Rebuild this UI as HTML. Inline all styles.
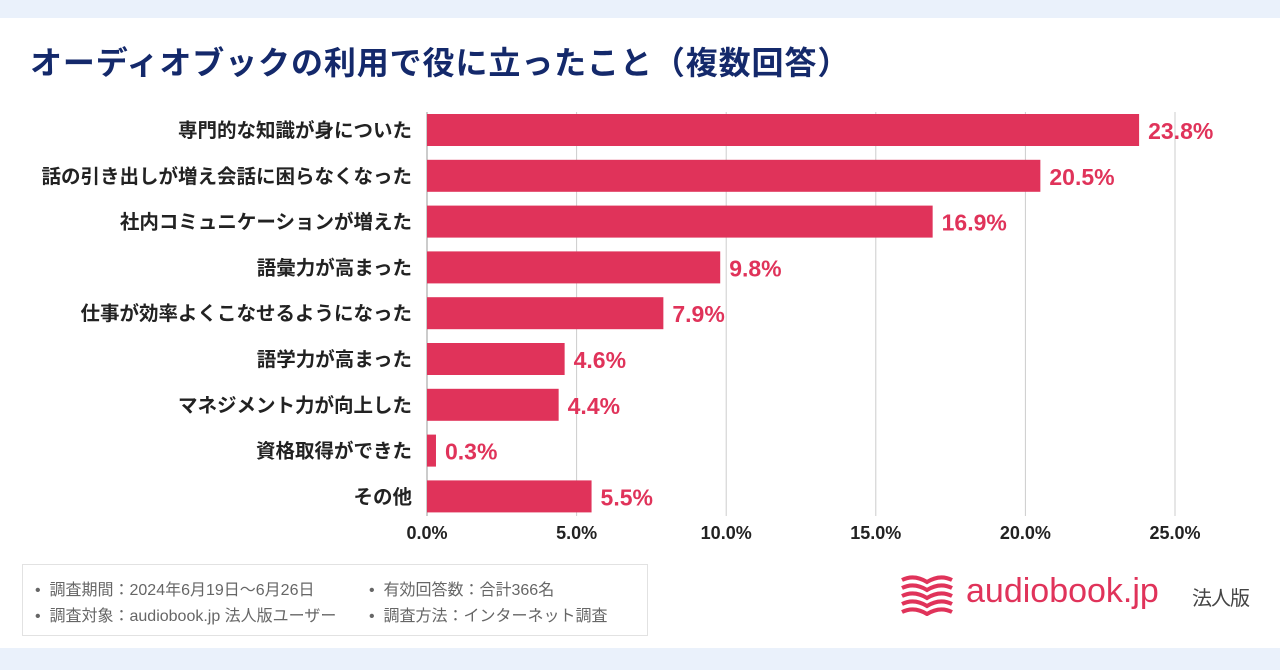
<!DOCTYPE html>
<html><head><meta charset="utf-8"><style>
body{margin:0;width:1280px;height:670px;background:#eaf1fb;font-family:"Liberation Sans","Noto Sans CJK JP",sans-serif;position:relative;overflow:hidden}
#card{position:absolute;left:0;top:18px;width:1280px;height:630px;background:#fff}
h1{position:absolute;left:30px;top:38px;margin:0;font-size:32px;font-weight:bold;color:#14296b;letter-spacing:0.9px;white-space:nowrap}
#note{position:absolute;left:22px;top:564px;width:626px;height:72px;border:1px solid #e2e2e2;box-sizing:border-box;font-size:16px;color:#666}
#note div{position:absolute;white-space:nowrap}
#logo{position:absolute;left:900px;top:574px}
</style></head><body>
<div id="card"></div>
<h1>オーディオブックの利用で役に立ったこと（複数回答）</h1>
<svg id="chart" width="1280" height="670" style="position:absolute;left:0;top:0"></svg>
<div id="note">
<div style="left:12px;top:11px">•&nbsp;&nbsp;調査期間：2024年6月19日～6月26日</div>
<div style="left:346px;top:11px">•&nbsp;&nbsp;有効回答数：合計366名</div>
<div style="left:12px;top:37px">•&nbsp;&nbsp;調査対象：audiobook.jp 法人版ユーザー</div>
<div style="left:346px;top:37px">•&nbsp;&nbsp;調査方法：インターネット調査</div>
</div>
<div id="logo">
<svg width="54" height="42" style="position:absolute;left:0;top:0">
<g fill="none" stroke="#e0335a" stroke-width="4">
<path d="M2 6 Q14 0 27 8 Q40 0 52 6"/><path d="M2 14 Q14 8 27 16 Q40 8 52 14"/><path d="M2 22 Q14 16 27 24 Q40 16 52 22"/><path d="M2 30 Q14 24 27 32 Q40 24 52 30"/><path d="M2 38 Q14 32 27 40 Q40 32 52 38"/>
</g></svg>
<span style="position:absolute;left:66px;top:-2px;font-size:34px;color:#e0335a;white-space:nowrap">audiobook.jp</span>
<span style="position:absolute;left:292px;top:8px;font-size:20px;color:#444;white-space:nowrap;letter-spacing:-1px">法人版</span>
</div>
<script>
const categories=["専門的な知識が身についた","話の引き出しが増え会話に困らなくなった","社内コミュニケーションが増えた","語彙力が高まった","仕事が効率よくこなせるようになった","語学力が高まった","マネジメント力が向上した","資格取得ができた","その他"];
const values=[23.8,20.5,16.9,9.8,7.9,4.6,4.4,0.3,5.5];
const ticks=[0,5,10,15,20,25];
const svg=document.getElementById('chart');
const NS='http://www.w3.org/2000/svg';
const x=v=>427+v*29.92;
const y=i=>114+i*45.8;
function mk(t,a){const e=document.createElementNS(NS,t);for(const k in a)e.setAttribute(k,a[k]);svg.appendChild(e);return e;}
ticks.forEach(t=>{
 const l=mk('line',{x1:x(t),x2:x(t),y1:112,y2:516,stroke:t===0?'#999':'#ccc','stroke-width':1});
 
 
 const tx=mk('text',{x:x(t),y:539,'text-anchor':'middle','font-size':18,'font-weight':'bold',fill:'#222'});
 tx.textContent=t.toFixed(1)+'%';
 
 
});
categories.forEach((c,i)=>{
 const r=mk('rect',{x:x(0),y:y(i),width:x(values[i])-x(0),height:32,fill:'#e0335a'});
 
 
 const lb=mk('text',{x:412,y:y(i)+23,'text-anchor':'end','font-size':19.5,'font-weight':'bold',fill:'#222'});
 lb.textContent=c;
 
 
 const v=mk('text',{x:x(values[i])+9,y:y(i)+25,'font-size':23,'font-weight':'bold',fill:'#e0335a'});
 v.textContent=values[i].toFixed(1)+'%';
 
 
});
</script>
</body></html>
